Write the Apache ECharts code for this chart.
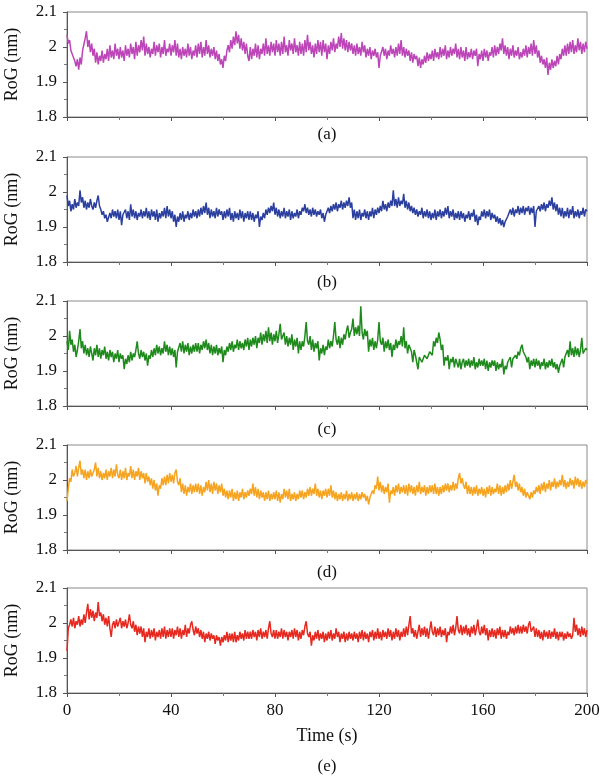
<!DOCTYPE html>
<html>
<head>
<meta charset="utf-8">
<script src="https://cdn.jsdelivr.net/npm/echarts@6/dist/echarts.min.js"></script>
<style>
  html, body { margin: 0; padding: 0; background: #fff; }
  #chart { width: 600px; height: 777px; }
</style>
</head>
<body>
<div id="chart"></div>
<script>
// RoG (nm) read every 0.5 s, t = 0 .. 200 (one row = 10 s)
var rogA = [
  2.035, 2.010, 2.020, 1.990, 1.995, 1.970, 1.960, 1.945, 1.965, 1.935, 1.970, 1.950, 1.990, 1.985, 2.025, 2.045, 2.000, 2.020, 1.985, 2.010,
  1.975, 1.995, 1.955, 1.985, 1.950, 1.975, 1.960, 1.990, 1.955, 1.980, 1.965, 1.995, 1.960, 2.005, 1.970, 1.990, 1.965, 2.010, 1.975, 1.995,
  1.965, 2.000, 1.970, 1.990, 1.960, 2.005, 1.975, 1.995, 1.970, 2.010, 1.980, 2.000, 1.965, 2.015, 1.975, 2.005, 1.985, 2.020, 1.990, 2.030,
  1.975, 2.010, 1.980, 2.000, 1.970, 1.995, 1.980, 2.015, 1.975, 2.005, 1.985, 2.010, 1.970, 2.000, 1.980, 2.020, 1.975, 1.995, 1.985, 2.010,
  1.975, 2.005, 1.985, 2.020, 1.975, 2.010, 1.970, 1.995, 1.965, 2.000, 1.975, 1.995, 1.970, 2.010, 1.975, 2.000, 1.965, 1.990, 1.975, 2.005,
  1.970, 2.010, 1.980, 2.015, 1.970, 2.000, 1.975, 2.020, 1.980, 2.005, 1.970, 1.995, 1.975, 2.000, 1.965, 1.990, 1.960, 1.980, 1.950, 1.965,
  1.940, 1.975, 1.960, 1.990, 2.005, 1.985, 2.020, 1.995, 2.030, 2.005, 2.045, 2.010, 2.035, 1.995, 2.025, 1.990, 2.015, 1.980, 2.010, 1.975,
  1.960, 2.000, 1.965, 1.995, 1.975, 2.010, 1.970, 2.005, 1.965, 1.995, 1.980, 2.010, 1.975, 2.025, 1.980, 2.005, 1.975, 2.015, 1.985, 2.010,
  1.975, 2.020, 1.985, 2.010, 1.975, 2.015, 1.980, 2.030, 1.985, 2.005, 1.975, 2.020, 1.990, 2.010, 1.980, 2.025, 1.985, 2.005, 1.975, 2.015,
  1.980, 2.010, 1.975, 2.020, 1.985, 2.035, 1.990, 2.015, 1.980, 2.005, 1.970, 2.010, 1.980, 2.020, 1.985, 2.015, 1.975, 2.020, 1.985, 2.010,
  1.965, 2.005, 1.980, 2.015, 1.990, 2.025, 1.985, 2.010, 1.995, 2.030, 2.000, 2.040, 1.995, 2.025, 1.990, 2.020, 1.985, 2.015, 1.990, 2.010,
  1.980, 2.005, 1.975, 2.010, 1.980, 2.000, 1.975, 2.015, 1.985, 2.005, 1.970, 1.995, 1.975, 2.000, 1.965, 1.990, 1.975, 1.995, 1.970, 1.985,
  1.940, 1.975, 1.970, 2.000, 1.975, 1.995, 1.965, 1.990, 1.975, 2.005, 1.980, 1.995, 1.970, 2.000, 1.975, 2.010, 1.980, 2.020, 1.975, 2.000,
  1.970, 1.995, 1.975, 1.990, 1.960, 1.985, 1.955, 1.980, 1.965, 1.975, 1.945, 1.970, 1.940, 1.965, 1.950, 1.975, 1.955, 1.985, 1.960, 1.980,
  1.965, 1.990, 1.960, 1.995, 1.970, 1.985, 1.965, 2.000, 1.970, 1.995, 1.975, 2.005, 1.965, 1.990, 1.970, 2.000, 1.975, 1.995, 1.980, 2.010,
  1.970, 1.995, 1.965, 2.000, 1.970, 1.990, 1.960, 2.000, 1.965, 1.985, 1.970, 1.995, 1.965, 1.990, 1.975, 1.995, 1.945, 1.980, 1.965, 1.990,
  1.960, 1.995, 1.970, 1.990, 1.960, 1.985, 1.975, 2.000, 1.970, 2.005, 1.975, 2.000, 1.980, 2.010, 1.990, 2.025, 1.980, 2.005, 1.975, 2.000,
  1.965, 1.995, 1.975, 2.005, 1.970, 1.990, 1.975, 2.000, 1.965, 1.985, 1.970, 1.995, 1.975, 2.005, 1.970, 2.000, 1.980, 2.010, 1.975, 2.020,
  1.980, 2.005, 1.970, 1.990, 1.955, 1.975, 1.950, 1.965, 1.940, 1.970, 1.920, 1.955, 1.935, 1.965, 1.940, 1.960, 1.945, 1.975, 1.950, 1.980,
  1.965, 1.995, 1.975, 2.005, 1.975, 2.010, 1.980, 2.015, 1.985, 2.020, 1.980, 2.005, 1.985, 2.025, 1.990, 2.015, 1.980, 2.010, 1.985, 2.015,
  1.995
];
var rogB = [
  1.990, 1.960, 1.975, 1.945, 1.965, 1.950, 1.980, 1.955, 1.970, 1.960, 2.005, 1.970, 1.985, 1.955, 1.975, 1.950, 1.970, 1.955, 1.980, 1.960,
  1.950, 1.970, 1.955, 1.975, 1.990, 1.960, 1.950, 1.935, 1.945, 1.925, 1.935, 1.915, 1.910, 1.940, 1.925, 1.950, 1.930, 1.945, 1.925, 1.950,
  1.920, 1.945, 1.905, 1.935, 1.930, 1.950, 1.925, 1.945, 1.920, 1.965, 1.930, 1.950, 1.925, 1.945, 1.920, 1.940, 1.930, 1.950, 1.925, 1.945,
  1.930, 1.955, 1.925, 1.945, 1.920, 1.950, 1.930, 1.945, 1.920, 1.950, 1.915, 1.940, 1.925, 1.945, 1.930, 1.955, 1.925, 1.960, 1.930, 1.950,
  1.925, 1.945, 1.915, 1.935, 1.900, 1.930, 1.915, 1.940, 1.920, 1.945, 1.915, 1.935, 1.925, 1.945, 1.920, 1.940, 1.925, 1.950, 1.930, 1.945,
  1.925, 1.950, 1.930, 1.955, 1.935, 1.960, 1.940, 1.970, 1.935, 1.955, 1.925, 1.950, 1.930, 1.945, 1.925, 1.955, 1.930, 1.950, 1.935, 1.945,
  1.920, 1.945, 1.925, 1.950, 1.930, 1.955, 1.920, 1.940, 1.915, 1.945, 1.925, 1.940, 1.920, 1.950, 1.925, 1.945, 1.915, 1.940, 1.925, 1.945,
  1.920, 1.945, 1.920, 1.940, 1.915, 1.935, 1.925, 1.945, 1.900, 1.930, 1.920, 1.940, 1.925, 1.950, 1.935, 1.955, 1.940, 1.960, 1.945, 1.970,
  1.935, 1.955, 1.930, 1.950, 1.925, 1.945, 1.930, 1.955, 1.925, 1.945, 1.930, 1.950, 1.920, 1.945, 1.925, 1.940, 1.930, 1.950, 1.925, 1.945,
  1.935, 1.955, 1.945, 1.965, 1.940, 1.955, 1.935, 1.950, 1.930, 1.955, 1.935, 1.950, 1.930, 1.945, 1.935, 1.950, 1.925, 1.940, 1.915, 1.935,
  1.935, 1.955, 1.940, 1.960, 1.945, 1.965, 1.950, 1.970, 1.945, 1.965, 1.955, 1.975, 1.950, 1.970, 1.955, 1.975, 1.960, 1.985, 1.955, 1.970,
  1.925, 1.950, 1.920, 1.945, 1.925, 1.950, 1.920, 1.940, 1.930, 1.950, 1.925, 1.945, 1.920, 1.945, 1.930, 1.955, 1.925, 1.950, 1.935, 1.955,
  1.940, 1.960, 1.945, 1.975, 1.950, 1.965, 1.945, 1.970, 1.955, 1.975, 1.960, 2.005, 1.960, 1.980, 1.955, 1.985, 1.960, 1.975, 1.965, 1.995,
  1.955, 1.975, 1.950, 1.970, 1.945, 1.960, 1.940, 1.955, 1.935, 1.950, 1.930, 1.945, 1.935, 1.955, 1.925, 1.945, 1.930, 1.950, 1.925, 1.945,
  1.920, 1.940, 1.925, 1.950, 1.920, 1.945, 1.930, 1.950, 1.925, 1.945, 1.930, 1.955, 1.935, 1.960, 1.925, 1.945, 1.930, 1.950, 1.920, 1.940,
  1.925, 1.945, 1.920, 1.945, 1.925, 1.940, 1.915, 1.935, 1.925, 1.945, 1.920, 1.940, 1.930, 1.950, 1.915, 1.935, 1.905, 1.930, 1.920, 1.945,
  1.930, 1.950, 1.925, 1.945, 1.930, 1.950, 1.920, 1.940, 1.925, 1.935, 1.915, 1.930, 1.910, 1.925, 1.905, 1.920, 1.900, 1.915, 1.910, 1.930,
  1.925, 1.950, 1.935, 1.955, 1.930, 1.950, 1.940, 1.960, 1.935, 1.955, 1.940, 1.960, 1.935, 1.955, 1.945, 1.960, 1.935, 1.955, 1.940, 1.960,
  1.900, 1.945, 1.940, 1.960, 1.945, 1.965, 1.950, 1.970, 1.945, 1.965, 1.955, 1.975, 1.960, 1.985, 1.950, 1.970, 1.945, 1.965, 1.935, 1.955,
  1.930, 1.955, 1.925, 1.945, 1.930, 1.955, 1.925, 1.950, 1.935, 1.960, 1.925, 1.945, 1.930, 1.950, 1.925, 1.945, 1.935, 1.955, 1.930, 1.950,
  1.945
];
var rogC = [
  1.985, 1.960, 2.015, 1.975, 1.990, 1.955, 1.975, 1.940, 1.960, 1.985, 2.020, 1.965, 1.985, 1.950, 1.975, 1.945, 1.965, 1.940, 1.970, 1.950,
  1.930, 1.965, 1.945, 1.975, 1.940, 1.965, 1.935, 1.960, 1.945, 1.970, 1.935, 1.955, 1.930, 1.960, 1.940, 1.955, 1.925, 1.950, 1.935, 1.960,
  1.925, 1.950, 1.935, 1.945, 1.905, 1.935, 1.920, 1.945, 1.925, 1.955, 1.930, 1.950, 1.940, 1.960, 1.985, 1.950, 1.935, 1.960, 1.940, 1.955,
  1.930, 1.950, 1.915, 1.945, 1.935, 1.960, 1.940, 1.965, 1.945, 1.975, 1.950, 1.970, 1.945, 1.965, 1.950, 1.985, 1.955, 1.975, 1.945, 1.970,
  1.945, 1.965, 1.940, 1.960, 1.910, 1.955, 1.950, 1.980, 1.955, 1.985, 1.950, 1.975, 1.955, 1.980, 1.945, 1.970, 1.950, 1.975, 1.955, 1.980,
  1.955, 1.980, 1.950, 1.975, 1.960, 1.985, 1.965, 1.990, 1.960, 1.980, 1.950, 1.975, 1.945, 1.970, 1.950, 1.975, 1.945, 1.965, 1.950, 1.970,
  1.925, 1.960, 1.945, 1.970, 1.955, 1.980, 1.960, 1.985, 1.955, 1.975, 1.965, 1.990, 1.960, 1.985, 1.965, 1.980, 1.960, 1.990, 1.970, 1.995,
  1.960, 1.990, 1.970, 1.995, 1.975, 2.000, 1.965, 1.995, 1.980, 2.010, 1.975, 2.005, 1.985, 2.015, 1.980, 2.025, 1.985, 2.010, 1.975, 2.005,
  1.985, 2.015, 1.980, 2.005, 2.035, 1.990, 1.985, 2.010, 1.975, 2.000, 1.970, 1.995, 1.975, 2.005, 1.960, 1.990, 1.970, 1.995, 1.950, 1.985,
  1.960, 1.985, 1.970, 2.000, 2.040, 1.985, 1.975, 2.000, 1.960, 1.990, 1.955, 1.980, 1.965, 1.985, 1.930, 1.965, 1.950, 1.975, 1.945, 1.970,
  1.960, 1.990, 1.965, 1.985, 1.970, 2.000, 2.040, 1.990, 1.975, 2.000, 1.965, 1.995, 1.975, 2.005, 1.990, 2.015, 2.030, 1.995, 2.010, 2.020,
  2.050, 2.000, 2.025, 2.005, 2.030, 2.000, 2.085, 2.010, 1.990, 2.020, 2.000, 2.015, 1.955, 1.990, 1.970, 1.995, 1.960, 1.985, 1.965, 1.990,
  2.040, 1.985, 1.975, 1.995, 1.955, 1.985, 1.965, 1.990, 1.960, 1.980, 1.940, 1.975, 1.960, 1.990, 1.965, 1.985, 1.975, 2.000, 1.970, 2.025,
  1.965, 1.985, 1.950, 1.975, 1.965, 1.955, 1.925, 1.960, 1.945, 1.950, 1.905, 1.940, 1.935, 1.925, 1.920, 1.945, 1.950, 1.935, 1.935, 1.955,
  1.960, 1.945, 1.985, 1.970, 1.995, 1.980, 2.010, 1.990, 1.960, 1.975, 1.915, 1.940, 1.930, 1.945, 1.905, 1.935, 1.925, 1.940, 1.910, 1.935,
  1.930, 1.910, 1.935, 1.905, 1.925, 1.935, 1.910, 1.930, 1.915, 1.935, 1.910, 1.930, 1.915, 1.940, 1.905, 1.925, 1.910, 1.935, 1.915, 1.930,
  1.915, 1.935, 1.905, 1.930, 1.900, 1.925, 1.910, 1.930, 1.915, 1.930, 1.900, 1.925, 1.905, 1.920, 1.910, 1.935, 1.890, 1.915, 1.905, 1.925,
  1.925, 1.940, 1.910, 1.935, 1.930, 1.945, 1.935, 1.955, 1.945, 1.965, 1.975, 1.955, 1.960, 1.940, 1.925, 1.940, 1.905, 1.930, 1.915, 1.935,
  1.910, 1.935, 1.915, 1.930, 1.905, 1.925, 1.915, 1.935, 1.905, 1.925, 1.910, 1.930, 1.915, 1.935, 1.910, 1.925, 1.905, 1.920, 1.895, 1.915,
  1.920, 1.935, 1.910, 1.940, 1.935, 1.960, 1.940, 1.985, 1.945, 1.965, 1.940, 1.970, 1.945, 1.965, 1.940, 1.960, 1.995, 1.950, 1.945, 1.965,
  1.960
];
var rogD = [
  1.940, 1.975, 2.005, 1.995, 2.030, 2.010, 2.020, 2.040, 2.010, 2.035, 2.055, 2.015, 2.030, 2.005, 2.030, 2.000, 2.025, 2.005, 2.030, 2.010,
  2.005, 2.030, 2.050, 2.010, 2.035, 2.005, 2.025, 2.000, 2.020, 2.005, 2.030, 2.000, 2.025, 2.010, 2.035, 2.005, 2.030, 2.010, 2.045, 2.015,
  2.005, 2.030, 2.000, 2.025, 2.005, 2.035, 2.000, 2.020, 2.010, 2.040, 2.005, 2.030, 2.000, 2.025, 2.010, 2.035, 2.000, 2.025, 2.005, 2.020,
  1.990, 2.020, 1.995, 2.010, 1.985, 2.005, 1.975, 2.000, 1.970, 1.990, 1.955, 1.985, 1.975, 2.005, 1.985, 2.010, 1.985, 2.015, 1.990, 2.020,
  1.995, 2.015, 1.990, 2.020, 2.030, 1.995, 1.985, 2.005, 1.965, 1.990, 1.960, 1.985, 1.955, 1.980, 1.965, 1.990, 1.960, 1.985, 1.965, 1.990,
  1.965, 1.990, 1.960, 1.985, 1.955, 1.980, 1.965, 1.995, 1.970, 2.000, 1.965, 1.990, 1.960, 1.995, 1.970, 1.990, 1.960, 1.985, 1.965, 1.990,
  1.955, 1.975, 1.950, 1.970, 1.945, 1.970, 1.950, 1.975, 1.940, 1.965, 1.945, 1.970, 1.940, 1.965, 1.950, 1.975, 1.945, 1.965, 1.950, 1.970,
  1.955, 1.975, 1.960, 1.990, 1.955, 1.980, 1.950, 1.975, 1.945, 1.970, 1.950, 1.965, 1.940, 1.965, 1.945, 1.970, 1.940, 1.960, 1.945, 1.965,
  1.945, 1.970, 1.940, 1.965, 1.935, 1.960, 1.945, 1.975, 1.950, 1.970, 1.945, 1.975, 1.940, 1.960, 1.945, 1.965, 1.940, 1.960, 1.945, 1.970,
  1.950, 1.970, 1.945, 1.965, 1.950, 1.975, 1.955, 1.980, 1.955, 1.975, 1.960, 1.990, 1.955, 1.975, 1.950, 1.970, 1.945, 1.970, 1.955, 1.975,
  1.950, 1.975, 1.955, 1.985, 1.950, 1.970, 1.945, 1.965, 1.940, 1.960, 1.945, 1.965, 1.940, 1.960, 1.945, 1.970, 1.940, 1.960, 1.945, 1.965,
  1.940, 1.960, 1.945, 1.965, 1.940, 1.960, 1.945, 1.965, 1.950, 1.960, 1.940, 1.955, 1.930, 1.950, 1.945, 1.970, 1.960, 1.985, 1.975, 2.010,
  1.970, 1.995, 1.965, 1.985, 1.960, 1.980, 1.965, 1.990, 1.935, 1.970, 1.960, 1.980, 1.955, 1.985, 1.965, 1.990, 1.960, 1.980, 1.965, 1.985,
  1.960, 1.985, 1.955, 1.990, 1.965, 1.985, 1.960, 1.980, 1.955, 1.985, 1.965, 1.995, 1.960, 1.980, 1.965, 1.985, 1.955, 1.980, 1.960, 1.985,
  1.965, 1.985, 1.960, 1.990, 1.960, 1.980, 1.955, 1.980, 1.960, 1.985, 1.965, 1.990, 1.970, 1.990, 1.965, 1.985, 1.970, 1.995, 1.970, 1.990,
  1.975, 2.005, 2.020, 1.990, 2.005, 1.985, 1.975, 1.995, 1.960, 1.985, 1.960, 1.980, 1.955, 1.980, 1.960, 1.985, 1.955, 1.975, 1.960, 1.980,
  1.955, 1.975, 1.950, 1.980, 1.960, 1.985, 1.955, 1.980, 1.960, 1.975, 1.965, 1.990, 1.960, 1.985, 1.955, 1.980, 1.960, 1.985, 1.965, 1.990,
  1.970, 2.000, 1.975, 1.995, 2.015, 1.980, 1.995, 1.970, 1.990, 1.965, 1.980, 1.955, 1.975, 1.950, 1.965, 1.955, 1.945, 1.965, 1.950, 1.970,
  1.960, 1.980, 1.965, 1.985, 1.960, 1.990, 1.970, 1.995, 1.965, 1.990, 1.975, 2.000, 1.970, 1.995, 1.980, 2.005, 1.975, 1.995, 1.980, 2.000,
  1.985, 2.015, 1.980, 2.000, 1.975, 1.995, 1.980, 2.005, 1.985, 2.000, 1.975, 2.010, 1.985, 2.005, 1.980, 2.000, 1.975, 1.995, 1.980, 2.000,
  1.990
];
var rogE = [
  1.920, 1.985, 1.995, 2.010, 1.990, 2.015, 1.985, 2.005, 1.995, 2.020, 1.990, 2.010, 1.995, 2.025, 2.000, 2.030, 2.055, 2.010, 2.040, 2.015,
  2.035, 2.005, 2.030, 2.015, 2.060, 2.020, 2.030, 2.005, 2.025, 1.995, 2.015, 1.990, 2.020, 1.985, 1.960, 1.995, 2.005, 1.985, 2.010, 1.990,
  1.995, 2.015, 1.985, 2.005, 1.990, 2.010, 1.985, 2.000, 2.025, 1.995, 1.985, 2.005, 1.975, 1.995, 1.965, 1.990, 1.970, 1.990, 1.960, 1.985,
  1.945, 1.975, 1.960, 1.985, 1.955, 1.980, 1.960, 1.985, 1.950, 1.975, 1.960, 1.980, 1.955, 1.985, 1.960, 1.990, 1.955, 1.980, 1.960, 1.985,
  1.960, 1.985, 1.955, 1.980, 1.965, 1.990, 1.960, 1.985, 1.955, 1.980, 1.965, 1.995, 1.960, 1.985, 1.970, 1.995, 2.005, 1.980, 1.965, 1.990,
  1.970, 1.985, 1.960, 1.980, 1.955, 1.975, 1.945, 1.970, 1.955, 1.975, 1.950, 1.970, 1.955, 1.965, 1.940, 1.965, 1.950, 1.960, 1.935, 1.960,
  1.945, 1.965, 1.950, 1.975, 1.945, 1.970, 1.950, 1.970, 1.945, 1.975, 1.945, 1.965, 1.950, 1.975, 1.955, 1.970, 1.950, 1.980, 1.955, 1.975,
  1.955, 1.975, 1.955, 1.980, 1.960, 1.975, 1.950, 1.980, 1.960, 1.985, 1.955, 1.975, 1.960, 1.980, 1.955, 1.985, 2.005, 1.970, 1.960, 1.980,
  1.955, 1.980, 1.955, 1.975, 1.960, 1.985, 1.955, 1.980, 1.960, 1.975, 1.950, 1.975, 1.960, 1.980, 1.955, 1.985, 1.960, 1.980, 1.950, 1.975,
  1.955, 1.980, 1.965, 1.990, 2.005, 1.970, 1.960, 1.975, 1.935, 1.965, 1.950, 1.975, 1.955, 1.980, 1.950, 1.970, 1.955, 1.975, 1.945, 1.970,
  1.950, 1.975, 1.955, 1.980, 1.950, 1.970, 1.955, 1.985, 1.960, 1.975, 1.945, 1.970, 1.955, 1.975, 1.945, 1.970, 1.950, 1.975, 1.955, 1.970,
  1.950, 1.975, 1.955, 1.970, 1.945, 1.975, 1.955, 1.980, 1.950, 1.975, 1.955, 1.970, 1.945, 1.975, 1.960, 1.980, 1.950, 1.975, 1.955, 1.985,
  1.955, 1.975, 1.950, 1.980, 1.960, 1.975, 1.955, 1.985, 1.960, 1.980, 1.950, 1.975, 1.955, 1.985, 1.960, 1.980, 1.950, 1.975, 1.960, 1.985,
  1.960, 1.990, 1.965, 1.995, 2.020, 1.970, 1.985, 1.960, 1.980, 1.955, 1.975, 1.995, 1.960, 1.985, 1.965, 1.990, 1.960, 1.985, 1.955, 1.980,
  2.005, 1.975, 1.965, 1.990, 1.960, 1.985, 1.965, 1.990, 1.960, 1.980, 1.965, 1.985, 1.945, 1.975, 1.965, 1.990, 1.970, 1.995, 1.965, 1.985,
  2.020, 1.980, 1.970, 1.995, 1.965, 1.990, 1.970, 1.995, 1.965, 1.985, 1.960, 1.990, 1.970, 1.995, 1.965, 1.985, 2.010, 1.975, 1.965, 1.990,
  1.970, 1.995, 1.965, 1.985, 1.950, 1.980, 1.960, 1.985, 1.960, 1.980, 1.955, 1.985, 1.965, 1.990, 1.955, 1.980, 1.960, 1.980, 1.955, 1.975,
  1.965, 1.990, 1.970, 1.985, 1.965, 1.990, 1.970, 1.995, 1.970, 1.990, 1.970, 1.995, 1.975, 1.990, 1.970, 1.995, 2.005, 1.975, 1.970, 1.990,
  1.960, 1.985, 1.960, 1.980, 1.955, 1.975, 1.950, 1.980, 1.960, 1.975, 1.955, 1.980, 1.955, 1.975, 1.960, 1.985, 1.955, 1.975, 1.950, 1.975,
  1.960, 1.975, 1.950, 1.970, 1.955, 1.975, 1.960, 1.970, 1.955, 1.965, 2.015, 1.975, 1.995, 1.965, 1.985, 1.960, 1.990, 1.965, 1.985, 1.960,
  1.980
];

var panelData = [rogA, rogB, rogC, rogD, rogE];
var panelLabels = ["(a)", "(b)", "(c)", "(d)", "(e)"];
var panelColors = ["#bc45b8", "#2b3f9f", "#1f8a1c", "#f6a31f", "#e6281f"];
var timeStep = 0.5; // s
var xTicks = { min: 0, max: 200, interval: 40 };
var yTicks = { min: 1.8, max: 2.1, interval: 0.1 };

var gridTops = [12, 157, 301, 445, 588];
var gridHeight = 105;
var labelCenters = [135, 283, 430, 573, 767];
var fontFamily = "'Liberation Serif', 'DejaVu Serif', serif";

var myChart = echarts.init(document.getElementById("chart"));

var grid = [], xAxis = [], yAxis = [], series = [], graphic = [];
panelData.forEach(function(vals, i) {
  var last = i === panelData.length - 1;
  grid.push({
    left: 67,
    right: 13,
    top: gridTops[i],
    height: gridHeight,
    outerBoundsMode: "none",
    show: true,
    borderColor: "#8a8a8a",
    borderWidth: 1
  });
  xAxis.push({
    gridIndex: i,
    type: "value",
    min: xTicks.min,
    max: xTicks.max,
    interval: xTicks.interval,
    name: last ? "Time (s)" : "",
    nameLocation: "middle",
    nameGap: 34,
    nameTextStyle: { color: "#111", fontSize: 18, fontFamily: fontFamily },
    axisLine: { lineStyle: { color: "#555", width: 1 } },
    axisTick: { show: true, length: 4, lineStyle: { color: "#555" } },
    minorTick: { show: true, splitNumber: 2, length: 3, lineStyle: { color: "#777" } },
    axisLabel: {
      show: last,
      color: "#111",
      fontSize: 17,
      fontFamily: fontFamily,
      margin: 9
    },
    splitLine: { show: false }
  });
  yAxis.push({
    gridIndex: i,
    type: "value",
    min: yTicks.min,
    max: yTicks.max,
    interval: yTicks.interval,
    name: "RoG (nm)",
    nameLocation: "middle",
    nameGap: 46,
    nameTextStyle: { color: "#111", fontSize: 18, fontFamily: fontFamily },
    axisLine: { show: true, lineStyle: { color: "#555", width: 1 } },
    axisTick: { show: true, length: 4, lineStyle: { color: "#555" } },
    minorTick: { show: true, splitNumber: 2, length: 3, lineStyle: { color: "#777" } },
    axisLabel: {
      color: "#111",
      fontSize: 17,
      fontFamily: fontFamily,
      margin: 10
    },
    splitLine: { show: false }
  });
  series.push({
    type: "line",
    xAxisIndex: i,
    yAxisIndex: i,
    data: vals.map(function(v, k) { return [k * timeStep, v]; }),
    showSymbol: false,
    lineStyle: { color: panelColors[i], width: 1.5 },
    itemStyle: { color: panelColors[i] }
  });
  graphic.push({
    type: "text",
    x: 327,
    y: labelCenters[i],
    style: {
      text: panelLabels[i],
      fill: "#111",
      font: "17px " + fontFamily,
      textAlign: "center",
      textVerticalAlign: "middle"
    }
  });
});

myChart.setOption({
  animation: false,
  grid: grid,
  xAxis: xAxis,
  yAxis: yAxis,
  series: series,
  graphic: graphic
});
</script>
</body>
</html>
